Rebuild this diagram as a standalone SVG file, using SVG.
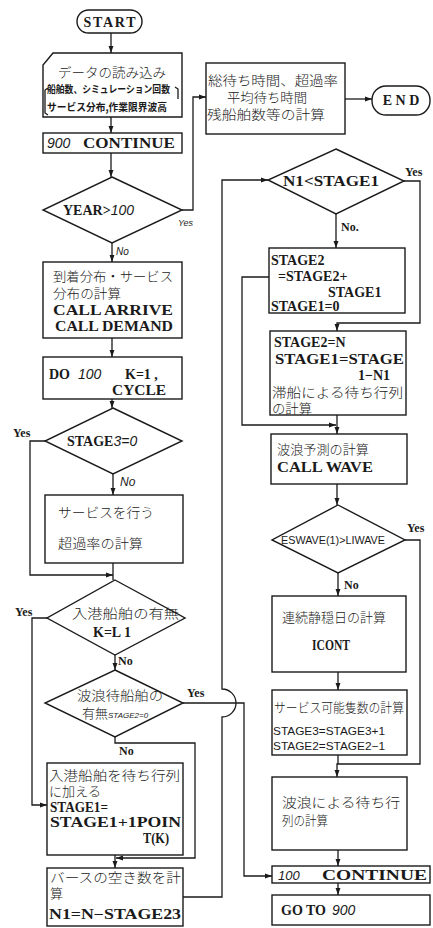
<svg xmlns="http://www.w3.org/2000/svg" width="433" height="928" viewBox="0 0 433 928">
<style>
.bx{fill:#fff;stroke:#1a1a1a;stroke-width:1.4}
.ln{fill:none;stroke:#1a1a1a;stroke-width:1.3}
.la{fill:none;stroke:#1a1a1a;stroke-width:1.3;marker-end:url(#ah)}
.jp{font-family:"Noto Sans CJK JP","Noto Sans CJK SC",sans-serif;font-size:13px;fill:#1a1a1a;font-weight:300}
.jb{font-family:"Noto Sans CJK JP","Noto Sans CJK SC",sans-serif;font-size:10px;fill:#1a1a1a;font-weight:700}
.en{font-family:"Liberation Serif","DejaVu Serif",serif;font-size:14px;font-weight:bold;fill:#1a1a1a}
.it{font-family:"Liberation Sans","DejaVu Sans",sans-serif;font-style:italic;font-weight:normal;fill:#1a1a1a}
.sn{font-family:"Liberation Sans Narrow","Liberation Sans","DejaVu Sans",sans-serif;font-size:11px;fill:#1a1a1a}
.yn{font-family:"Liberation Serif","DejaVu Serif",serif;font-size:12px;font-weight:bold;fill:#1a1a1a}
</style>
<defs>
<marker id="ah" viewBox="0 0 10 10" refX="10" refY="5" markerWidth="7" markerHeight="7" orient="auto" markerUnits="userSpaceOnUse"><path d="M0,1.5 L10,5 L0,8.5 Z" fill="#1a1a1a"/></marker>
</defs>

<g id="connectors">
<path class="la" d="M111,33 V53"/>
<path class="la" d="M111,117 V133"/>
<path class="la" d="M111,153 V177"/>
<path class="la" d="M182,210 H193 V97 H206"/>
<path class="la" d="M112,243 V262"/>
<path class="la" d="M112,338 V357"/>
<path class="la" d="M112,399 V408"/>
<path class="la" d="M45,441 H30 V575 H113"/>
<path class="la" d="M113,474 V495"/>
<path class="ln" d="M113,563 V580"/>
<path class="la" d="M115,655 V670"/>
<path class="la" d="M47,618 H32 V805 H47"/>
<path class="la" d="M183,703 H244 V876 H272"/>
<path class="la" d="M115,737 V743 H195 V858 H116"/>
<path class="la" d="M115,855 V868"/>
<path class="la" d="M183,897 H222 V717 A14,14 0 0 0 222,689 V180 H268"/>
<path class="la" d="M345,99 H372"/>
<path class="la" d="M404,181 H420 V323 H337 V331"/>
<path class="la" d="M336,214 V248"/>
<path class="la" d="M269,277 H242 V425 H336"/>
<path class="la" d="M337,415 V434"/>
<path class="la" d="M337,484 V505"/>
<path class="la" d="M405,540 H420 V764 H337 V777"/>
<path class="la" d="M338,573 V596"/>
<path class="la" d="M338,672 V690"/>
<path class="ln" d="M338,755 V764"/>
<path class="la" d="M338,850 V866"/>
<path class="la" d="M338,883 V895"/>
</g>

<g id="labels">
<text class="it" x="178" y="226" font-size="9">Yes</text>
<text class="it" x="116" y="255" font-size="10">No</text>
<text class="yn" x="13" y="437">Yes</text>
<text class="it" x="120" y="486" font-size="12">No</text>
<text class="yn" x="15" y="616">Yes</text>
<text class="yn" x="118" y="665" font-weight="normal">No</text>
<text class="yn" x="187" y="697">Yes</text>
<text class="yn" x="119" y="755" font-weight="normal">No</text>
<text class="yn" x="405" y="176" font-weight="normal">Yes</text>
<text class="yn" x="341" y="231" font-weight="normal">No.</text>
<text class="yn" x="407" y="532" font-weight="normal">Yes</text>
<text class="yn" x="344" y="589">No</text>
</g>

<g id="start">
<rect class="bx" x="77" y="10" width="65" height="23" rx="11.5"/>
<text class="en" x="109.5" y="26.5" text-anchor="middle" textLength="52">START</text>
</g>

<g id="input">
<path class="bx" d="M53,53 H182 V117 H43 V65 Z"/>
<path class="ln" d="M48,88 L45,90 V113 L48,115 M175,87 L178,89 V99" stroke-width="1"/>
<text class="jp" x="58" y="77" font-size="13.5" textLength="108" lengthAdjust="spacingAndGlyphs">データの読み込み</text>
<text class="jb" x="47" y="93" textLength="123" lengthAdjust="spacingAndGlyphs">船舶数、シミュレーション回数</text>
<text class="jb" x="47" y="111" font-size="9.5" textLength="120" lengthAdjust="spacingAndGlyphs">サービス分布,作業限界波高</text>
</g>

<g id="c900">
<rect class="bx" x="43" y="133" width="139" height="20"/>
<text x="47" y="148"><tspan class="it" font-size="14">900</tspan><tspan class="en" x="83" textLength="92" lengthAdjust="spacingAndGlyphs">CONTINUE</tspan></text>
</g>

<g id="year">
<polygon class="bx" points="112,177 182,210 112,243 43,210"/>
<text x="63" y="215"><tspan class="en">YEAR&gt;</tspan><tspan class="it" font-size="14">100</tspan></text>
</g>

<g id="arrive">
<rect class="bx" x="43" y="262" width="139" height="76"/>
<text class="jp" x="53" y="281" textLength="120" lengthAdjust="spacingAndGlyphs">到着分布・サービス</text>
<text class="jp" x="53" y="298" textLength="68" lengthAdjust="spacingAndGlyphs">分布の計算</text>
<text class="en" x="53" y="315" textLength="120" lengthAdjust="spacingAndGlyphs">CALL  ARRIVE</text>
<text class="en" x="55" y="331" textLength="118" lengthAdjust="spacingAndGlyphs">CALL  DEMAND</text>
</g>

<g id="do100">
<rect class="bx" x="43" y="357" width="139" height="42"/>
<text x="49" y="379"><tspan class="en">DO</tspan><tspan class="it" font-size="14" x="78">100</tspan><tspan class="en" x="125">K=1 ,</tspan></text>
<text class="en" x="112" y="395" textLength="54" lengthAdjust="spacingAndGlyphs">CYCLE</text>
</g>

<g id="stage3">
<polygon class="bx" points="113,408 182,441 113,474 45,441"/>
<text x="67" y="446"><tspan class="en" font-weight="normal">STAGE</tspan><tspan class="it" font-size="14">3=0</tspan></text>
</g>

<g id="service">
<rect class="bx" x="45" y="495" width="138" height="68"/>
<text class="jp" x="58" y="517" textLength="96" lengthAdjust="spacingAndGlyphs">サービスを行う</text>
<text class="jp" x="58" y="548" textLength="85" lengthAdjust="spacingAndGlyphs">超過率の計算</text>
</g>

<g id="nyuko">
<polygon class="bx" points="115,580 185,618 115,655 47,618"/>
<text class="jp" x="72" y="618" textLength="107" lengthAdjust="spacingAndGlyphs">入港船舶の有無</text>
<text class="en" x="93" y="637" font-weight="normal">K=L 1</text>
</g>

<g id="haromachi">
<polygon class="bx" points="115,670 183,703 115,737 45,703"/>
<text class="jp" x="77" y="700" font-size="12.5" textLength="86" lengthAdjust="spacingAndGlyphs">波浪待船舶の</text>
<text x="82" y="718"><tspan class="jp" font-size="12.5">有無</tspan><tspan class="it" font-size="8">STAGE2=0</tspan></text>
</g>

<g id="queue">
<rect class="bx" x="47" y="763" width="136" height="92"/>
<text class="jp" x="49" y="780" font-size="11.5" textLength="131" lengthAdjust="spacingAndGlyphs">入港船舶を待ち行列</text>
<text class="jp" x="49" y="796" font-size="11.5" textLength="52" lengthAdjust="spacingAndGlyphs">に加える</text>
<text class="en" x="50" y="812" textLength="58" lengthAdjust="spacingAndGlyphs">STAGE1=</text>
<text class="en" x="50" y="827" textLength="131" lengthAdjust="spacingAndGlyphs">STAGE1+1POIN</text>
<text class="en" x="143" y="843" font-weight="normal" textLength="26" lengthAdjust="spacingAndGlyphs">T(K)</text>
</g>

<g id="berth">
<rect class="bx" x="47" y="868" width="136" height="58"/>
<text class="jp" x="50" y="882" font-size="11.5" textLength="131" lengthAdjust="spacingAndGlyphs">バースの空き数を計</text>
<text class="jp" x="50" y="898" font-size="11.5">算</text>
<text class="en" x="49" y="919" font-weight="normal" textLength="132" lengthAdjust="spacingAndGlyphs">N1=N−STAGE23</text>
</g>

<g id="total">
<rect class="bx" x="206" y="63" width="139" height="71"/>
<text class="jp" x="208" y="85" textLength="130" lengthAdjust="spacingAndGlyphs">総待ち時間、超過率</text>
<text class="jp" x="227" y="102" textLength="80" lengthAdjust="spacingAndGlyphs">平均待ち時間</text>
<text class="jp" x="207" y="119" textLength="118" lengthAdjust="spacingAndGlyphs">残船舶数等の計算</text>
</g>

<g id="end">
<rect class="bx" x="372" y="86" width="58" height="29" rx="14"/>
<text class="en" x="401" y="105" text-anchor="middle">E N D</text>
</g>

<g id="n1stage1">
<polygon class="bx" points="336,149 404,181 336,214 268,180"/>
<text class="en" x="283" y="186" textLength="96" lengthAdjust="spacingAndGlyphs">N1&lt;STAGE1</text>
</g>

<g id="stage2a">
<rect class="bx" x="269" y="248" width="136" height="65"/>
<text class="en" x="271" y="265">STAGE2</text>
<text class="en" x="278" y="281">=STAGE2+</text>
<text class="en" x="328" y="297">STAGE1</text>
<text class="en" x="271" y="311">STAGE1=0</text>
</g>

<g id="stage2b">
<rect class="bx" x="270" y="331" width="136" height="84"/>
<text class="en" x="274" y="347">STAGE2=N</text>
<text class="en" x="275" y="364" textLength="129" lengthAdjust="spacingAndGlyphs">STAGE1=STAGE</text>
<text class="en" x="358" y="380">1−N1</text>
<text class="jp" x="272" y="397" font-size="11.5" textLength="131" lengthAdjust="spacingAndGlyphs">滞船による待ち行列</text>
<text class="jp" x="272" y="413" font-size="11" textLength="40" lengthAdjust="spacingAndGlyphs">の計算</text>
</g>

<g id="wave">
<rect class="bx" x="271" y="434" width="136" height="50"/>
<text class="jp" x="277" y="454" textLength="92" lengthAdjust="spacingAndGlyphs">波浪予測の計算</text>
<text class="en" x="277" y="472" font-weight="normal" textLength="96" lengthAdjust="spacingAndGlyphs">CALL  WAVE</text>
</g>

<g id="eswave">
<polygon class="bx" points="338,505 405,540 338,573 272,540"/>
<text class="sn" x="281" y="544" textLength="104" lengthAdjust="spacingAndGlyphs">ESWAVE(1)&gt;LIWAVE</text>
</g>

<g id="calm">
<rect class="bx" x="272" y="596" width="134" height="76"/>
<text class="jp" x="282" y="622" textLength="104" lengthAdjust="spacingAndGlyphs">連続静穏日の計算</text>
<text class="en" x="312" y="650" font-weight="normal" textLength="38" lengthAdjust="spacingAndGlyphs">ICONT</text>
</g>

<g id="servable">
<rect class="bx" x="272" y="690" width="135" height="65"/>
<text class="jp" x="274" y="712" font-size="10.5" textLength="130" lengthAdjust="spacingAndGlyphs">サービス可能隻数の計算</text>
<text class="sn" x="273" y="735" textLength="112" lengthAdjust="spacingAndGlyphs">STAGE3=STAGE3+1</text>
<text class="sn" x="273" y="750" textLength="112" lengthAdjust="spacingAndGlyphs">STAGE2=STAGE2−1</text>
</g>

<g id="wavequeue">
<rect class="bx" x="272" y="777" width="135" height="73"/>
<text class="jp" x="282" y="807" textLength="118" lengthAdjust="spacingAndGlyphs">波浪による待ち行</text>
<text class="jp" x="282" y="825" textLength="46" lengthAdjust="spacingAndGlyphs">列の計算</text>
</g>

<g id="c100">
<rect class="bx" x="272" y="866" width="158" height="17"/>
<text x="278" y="880"><tspan class="it" font-size="13">100</tspan><tspan class="en" font-weight="normal" x="322" textLength="105" lengthAdjust="spacingAndGlyphs">CONTINUE</tspan></text>
</g>

<g id="goto">
<rect class="bx" x="272" y="895" width="158" height="30"/>
<text x="281" y="915"><tspan class="en" font-weight="normal">GO  TO</tspan><tspan class="it" font-size="14" x="332">900</tspan></text>
</g>
</svg>
